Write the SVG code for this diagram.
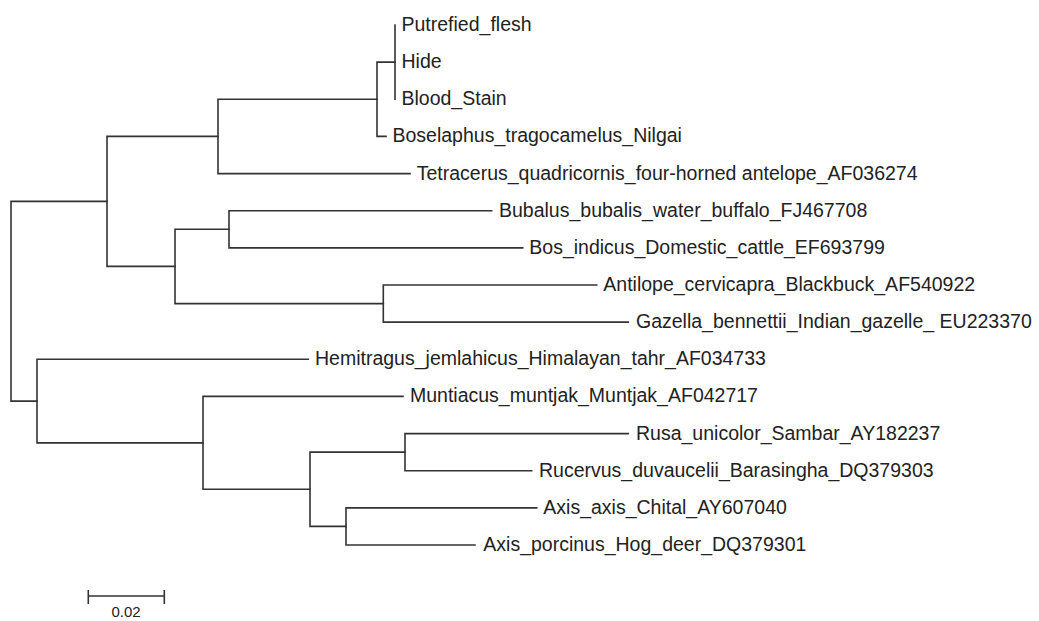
<svg xmlns="http://www.w3.org/2000/svg" width="1039" height="621" viewBox="0 0 1039 621">
<style>
.b{fill:none;stroke:#333;stroke-width:1.6;stroke-linecap:square}
.t{font-family:"Liberation Sans",Arial,sans-serif;font-size:19.5px;fill:#222}
.s{font-family:"Liberation Sans",Arial,sans-serif;font-size:15px;fill:#222;text-anchor:middle}
</style>
<rect width="1039" height="621" fill="#fff"/>
<g id="connectors">
<path class="b" d="M395,25V99.3"/>
<path class="b" d="M377,62.1H395M377,136.4H386M377,62.1V136.4"/>
<path class="b" d="M218,99.3H377M218,173.6H410M218,99.3V173.6"/>
<path class="b" d="M229,210.7H491.7M229,247.9H522.7M229,210.7V247.9"/>
<path class="b" d="M383.3,285H596.7M383.3,322.1H628.3M383.3,285V322.1"/>
<path class="b" d="M175,229.3H229M175,303.6H383.3M175,229.3V303.6"/>
<path class="b" d="M107,136.4H218M107,266.4H175M107,136.4V266.4"/>
<path class="b" d="M405,433.6H628.3M405,470.7H531.7M405,433.6V470.7"/>
<path class="b" d="M346,507.9H536.7M346,545H475M346,507.9V545"/>
<path class="b" d="M310,452.1H405M310,526.4H346M310,452.1V526.4"/>
<path class="b" d="M203,396.4H403M203,489.3H310M203,396.4V489.3"/>
<path class="b" d="M37,359.3H308.3M37,442.9H203M37,359.3V442.9"/>
<path class="b" d="M11,201.4H107M11,401.1H37M11,201.4V401.1"/>
</g>
<g id="n-putrefied"><text class="t" x="401.5" y="31">Putrefied_flesh</text></g>
<g id="n-hide"><text class="t" x="401.5" y="68.1">Hide</text></g>
<g id="n-blood"><text class="t" x="401.5" y="105.3">Blood_Stain</text></g>
<g id="n-boselaphus"><text class="t" x="392.5" y="142.4">Boselaphus_tragocamelus_Nilgai</text></g>
<g id="n-tetracerus"><text class="t" x="416.7" y="179.6">Tetracerus_quadricornis_four-horned antelope_AF036274</text></g>
<g id="n-bubalus"><text class="t" x="499" y="216.7">Bubalus_bubalis_water_buffalo_FJ467708</text></g>
<g id="n-bos"><text class="t" x="529.3" y="253.9">Bos_indicus_Domestic_cattle_EF693799</text></g>
<g id="n-antilope"><text class="t" x="603.3" y="291">Antilope_cervicapra_Blackbuck_AF540922</text></g>
<g id="n-gazella"><text class="t" x="636" y="328.1">Gazella_bennettii_Indian_gazelle_ EU223370</text></g>
<g id="n-hemitragus"><text class="t" x="315" y="365.3">Hemitragus_jemlahicus_Himalayan_tahr_AF034733</text></g>
<g id="n-muntiacus"><text class="t" x="410" y="402.4">Muntiacus_muntjak_Muntjak_AF042717</text></g>
<g id="n-rusa"><text class="t" x="636" y="439.6">Rusa_unicolor_Sambar_AY182237</text></g>
<g id="n-rucervus"><text class="t" x="539" y="476.7">Rucervus_duvaucelii_Barasingha_DQ379303</text></g>
<g id="n-axis"><text class="t" x="543.3" y="513.9">Axis_axis_Chital_AY607040</text></g>
<g id="n-porcinus"><text class="t" x="483.3" y="551">Axis_porcinus_Hog_deer_DQ379301</text></g>
<g id="scale">
<path class="b" d="M88.3,596H164.3M88.3,590.7V603.3M164.3,590.7V603.3"/>
<text class="s" x="126" y="617">0.02</text>
</g>
</svg>
